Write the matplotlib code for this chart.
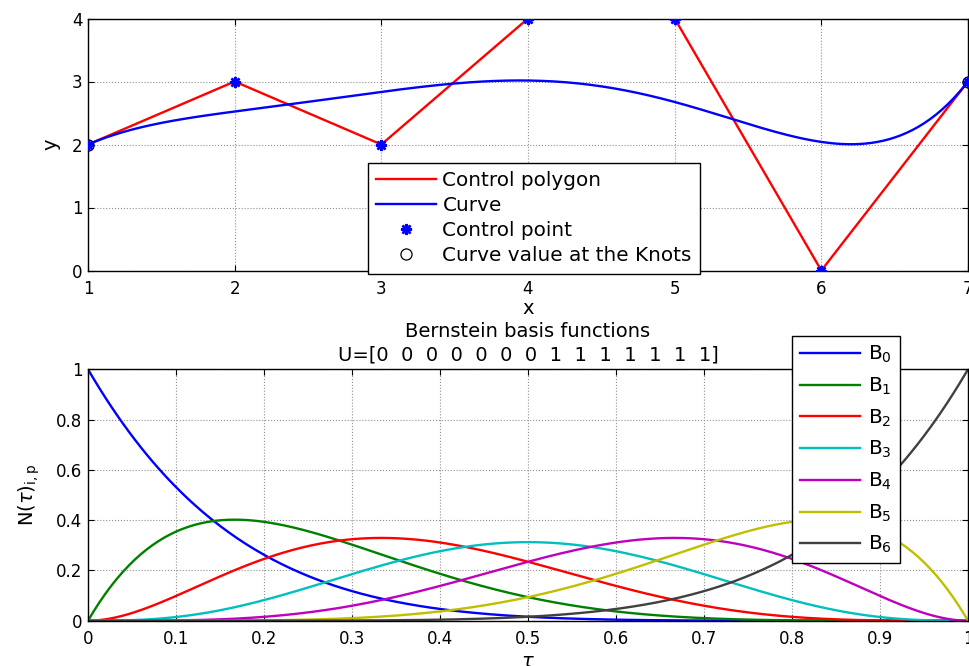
import numpy as np
import matplotlib
matplotlib.use('Agg')
import matplotlib.pyplot as plt
from math import comb

# control polygon and knot vector
px = [1, 2, 3, 4, 5, 6, 7]
py = [2, 3, 2, 4, 4, 0, 3]
U = [0, 0, 0, 0, 0, 0, 0, 1, 1, 1, 1, 1, 1, 1]
basis_names = ['B$_0$', 'B$_1$', 'B$_2$', 'B$_3$', 'B$_4$', 'B$_5$', 'B$_6$']
basis_colors = [(0, 0, 1), (0, 0.5, 0), (1, 0, 0), (0, 0.75, 0.75),
                (0.75, 0, 0.75), (0.75, 0.75, 0), (0.25, 0.25, 0.25)]

p = len(px) - 1
tau = np.linspace(0, 1, 301)

def bernstein(t, i, n):
    return comb(n, i) * t**i * (1 - t)**(n - i)

B = [bernstein(tau, i, p) for i in range(p + 1)]
cx = sum(B[i] * px[i] for i in range(p + 1))
cy = sum(B[i] * py[i] for i in range(p + 1))

knots = np.unique(U).astype(float)
kx = [sum(bernstein(k, i, p) * px[i] for i in range(p + 1)) for k in knots]
ky = [sum(bernstein(k, i, p) * py[i] for i in range(p + 1)) for k in knots]

plt.rcParams['font.family'] = ['DejaVu Sans']
plt.rcParams['mathtext.fontset'] = 'dejavusans'

W, H = 970, 666
fig = plt.figure(figsize=(W / 100, H / 100), dpi=100)
ax1 = fig.add_axes([88 / W, 1 - 270.5 / H, 880 / W, 252 / H])
ax2 = fig.add_axes([88 / W, 1 - 620.7 / H, 880 / W, 251.4 / H])

def style(ax):
    ax.grid(True, color='#909090', linestyle=':', linewidth=0.8)
    ax.tick_params(direction='in', length=4, width=0.8, top=True, right=True,
                   labelsize=12, pad=7, colors='k')
    ax.tick_params(axis='y', pad=4)
    for s in ax.spines.values():
        s.set_linewidth(1.0)
        s.set_color('k')
    ax.set_axisbelow(True)

# top: control polygon and curve
ax1.plot(px, py, '-', color='r', lw=1.7, label='Control polygon')
ax1.plot(cx, cy, '-', color='b', lw=1.7, label='Curve')
ax1.plot(kx, ky, 'o', mfc='none', mec='k', ms=8, mew=0.9, label='Curve value at the Knots', zorder=3)
ax1.plot(px, py, ls='none', marker=(8, 2, 0), color='b', ms=8, mew=1.8, label='Control point', zorder=4)
ax1.set_xlim(1, 7)
ax1.set_ylim(0, 4)
ax1.set_xticks(range(1, 8))
ax1.set_yticks(range(0, 5))
style(ax1)
ax1.set_xlabel('x', fontsize=14)
ax1.xaxis.set_label_coords(0.5, -0.113)
ax1.set_ylabel('y', fontsize=14)
ax1.yaxis.set_label_coords(-0.031, 0.5)

h, l = ax1.get_legend_handles_labels()
order = [0, 1, 3, 2]
leg1 = ax1.legend([h[i] for i in order], [l[i] for i in order], loc='upper left',
                  bbox_to_anchor=(368 / W, 1 - 163 / H), bbox_transform=fig.transFigure,
                  borderaxespad=0, fontsize=14.4, fancybox=False, framealpha=1,
                  edgecolor='k', handlelength=3.0, handletextpad=0.3,
                  labelspacing=0.3, borderpad=0.42)
leg1.get_frame().set_linewidth(1.0)

# bottom: basis functions
for i in range(p + 1):
    ax2.plot(tau, B[i], color=basis_colors[i], lw=1.7, label=basis_names[i])
ax2.set_xlim(0, 1)
ax2.set_ylim(0, 1)
ax2.set_xticks(np.arange(0, 1.01, 0.1))
ax2.set_xticklabels(['0', '0.1', '0.2', '0.3', '0.4', '0.5', '0.6', '0.7', '0.8', '0.9', '1'])
ax2.set_yticks(np.arange(0, 1.01, 0.2))
ax2.set_yticklabels(['0', '0.2', '0.4', '0.6', '0.8', '1'])
style(ax2)
ax2.set_xlabel(r'$\tau$', fontsize=14)
ax2.xaxis.set_label_coords(0.5, -0.125)
ax2.set_ylabel(r'N($\tau$)$_{\rm i,p}$', fontsize=14)
ax2.yaxis.set_label_coords(-0.052, 0.5)
ax2.set_title('Bernstein basis functions\nU=[' + '  '.join(str(u) for u in U) + ']',
              fontsize=14, pad=6, linespacing=1.33)

leg2 = ax2.legend(loc='upper left', bbox_to_anchor=(792 / W, 1 - 336 / H),
                  bbox_transform=fig.transFigure, borderaxespad=0, fontsize=14.4,
                  fancybox=False, framealpha=1, edgecolor='k', handlelength=3.0,
                  handletextpad=0.4, labelspacing=0.52, borderpad=0.4)
leg2.get_frame().set_linewidth(1.0)

fig.savefig('out.png', dpi=100)
